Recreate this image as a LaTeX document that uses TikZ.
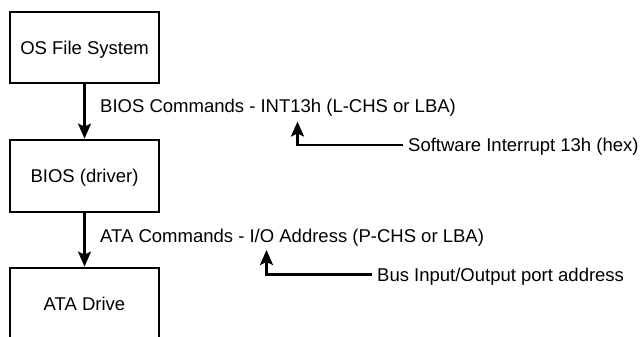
\documentclass[tikz,border=0pt]{standalone}
\usepackage{fontspec}
\setmainfont{Liberation Sans}
\usetikzlibrary{arrows.meta}
\tikzset{
  box/.style={draw, line width=2.8pt, minimum width=149pt, inner sep=0pt,
    text height=13.2pt, text depth=0pt, font=\fontsize{18.5}{22}\selectfont},
  lbl/.style={inner sep=0pt, font=\fontsize{18.5}{22}\selectfont},
  note/.style={inner xsep=5pt, inner ysep=0pt, text height=13.2pt, text depth=0pt,
    font=\fontsize{18.5}{22}\selectfont},
  arr/.style={line width=2.4pt, -{Stealth[length=15pt,width=13pt,inset=3pt]}},
}
\begin{document}
\begin{tikzpicture}[x=1pt,y=-1pt]
\useasboundingbox (0,0) rectangle (640,337);
\clip (0,0) rectangle (640,337);
\node[box, minimum height=71pt] (os) at (84.5,47.5) {OS File System};
\node[box, minimum height=72pt] (bios) at (84.5,176) {BIOS (driver)};
\node[box, minimum height=72pt] (ata) at (84.5,304) {ATA Drive};
\draw[arr] (os.south) -- (bios.north);
\draw[arr] (bios.south) -- (ata.north);
\node[lbl, anchor=base west] (l1) at (100,113) {BIOS Commands - INT13h (L-CHS or LBA)};
\node[lbl, anchor=base west] (l2) at (100,242) {ATA Commands - I/O Address (P-CHS or LBA)};
\node[note, anchor=west] (n1) at (403,145) {Software Interrupt 13h (hex)};
\node[note, anchor=west] (n2) at (372,274.5) {Bus Input/Output port address};
\coordinate (t1) at (297.5,121.5);
\coordinate (t2) at (266.5,250);
\draw[arr] (n1.west) -| (t1);
\draw[arr] (n2.west) -| (t2);
\end{tikzpicture}
\end{document}
